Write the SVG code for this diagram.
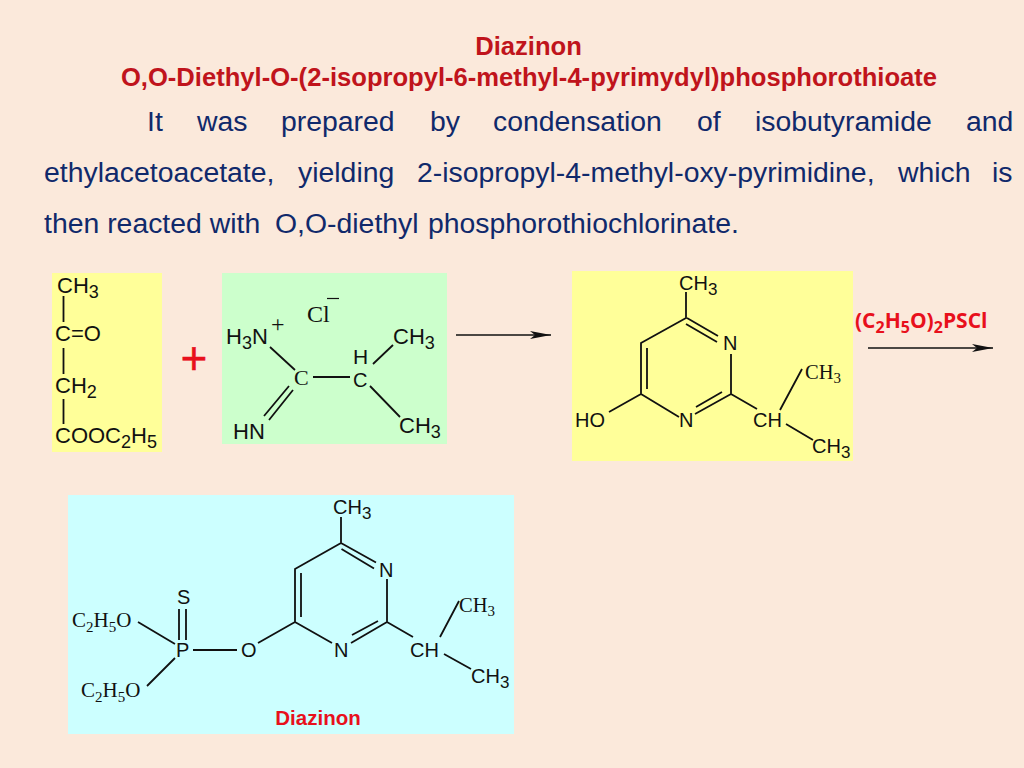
<svg xmlns="http://www.w3.org/2000/svg" width="1024" height="768" viewBox="0 0 1024 768">
<defs>
<marker id="ah" markerUnits="userSpaceOnUse" markerWidth="22" markerHeight="10" refX="21" refY="5" orient="auto"><path d="M0 1L21 5L0 9L5 5Z" fill="#111"/></marker>
</defs>
<style>
text{font-family:"Liberation Sans",Arial,sans-serif;fill:#111}
.t{font-weight:bold;font-size:25.6px;fill:#c0141c;text-anchor:middle}
.b{font-size:28.4px;fill:#10296b}
.a{font-size:22px}
.u{font-size:18px}
.m{font-size:20px}
.n{font-size:17px}
.s{font-family:"Liberation Serif","Times New Roman",serif;font-size:20.500px}
.v{font-size:15px}
.c{font-family:"Open Sans",sans-serif;font-weight:bold;font-size:21px;fill:#e8101c}
.l{stroke:#111;stroke-width:1.800;fill:none}
.ar{stroke:#111;stroke-width:1.500;fill:none;marker-end:url(#ah)}
</style>
<rect width="1024" height="768" fill="#fbe9db"/>
<g id="heading">
<text class="t" x="528.500" y="55">Diazinon</text>
<text class="t" x="529" y="86">O,O-Diethyl-O-(2-isopropyl-6-methyl-4-pyrimydyl)phosphorothioate</text>
</g>
<g id="body">
<text class="b" x="147" y="131">It</text>
<text class="b" x="197" y="131">was</text>
<text class="b" x="281" y="131">prepared</text>
<text class="b" x="430" y="131">by</text>
<text class="b" x="493" y="131">condensation</text>
<text class="b" x="697" y="131">of</text>
<text class="b" x="755" y="131">isobutyramide</text>
<text class="b" x="966" y="131">and</text>
<text class="b" x="44" y="182">ethylacetoacetate,</text>
<text class="b" x="298" y="182">yielding</text>
<text class="b" x="417" y="182">2-isopropyl-4-methyl-oxy-pyrimidine,</text>
<text class="b" x="898" y="182">which</text>
<text class="b" x="992" y="182">is</text>
<text class="b" x="44" y="233">then reacted with</text>
<text class="b" x="275" y="233">O,O-diethyl</text>
<text class="b" x="428" y="233">phosphorothiochlorinate.</text>
</g>
<g id="ethylacetoacetate">
<rect x="52" y="273" width="110" height="179" fill="#ffff99"/>
<text class="a" x="57" y="293">CH<tspan class="u" dy="5">3</tspan></text>
<text class="a" x="55" y="341">C=O</text>
<text class="a" x="55" y="393">CH<tspan class="u" dy="5">2</tspan></text>
<text class="a" x="55" y="443">COOC<tspan class="u" dy="5">2</tspan><tspan dy="-5">H</tspan><tspan class="u" dy="5">5</tspan></text>
<path class="l" d="M63.500 296V322M63.500 348V374M63.500 399V424"/>
</g>
<g id="plus"><text x="194" y="374" font-size="46" stroke="#e8101c" stroke-width="0.400" style="fill:#e8101c" text-anchor="middle">+</text></g>
<g id="isobutyramidine">
<rect x="222" y="273" width="225" height="171" fill="#ccffcc"/>
<text class="s" x="307" y="322" style="font-size:24px">Cl</text>
<path d="M327 298.500H339" stroke="#111" stroke-width="1.200"/>
<text class="s" x="271" y="332" style="font-size:24px">+</text>
<text class="a" x="226" y="344">H<tspan class="u" dy="5">3</tspan><tspan dy="-5">N</tspan></text>
<text class="a" x="393" y="344">CH<tspan class="u" dy="5">3</tspan></text>
<text x="353" y="364" font-size="21">H</text>
<text class="s" x="294" y="385" style="font-size:22px">C</text>
<text x="353" y="387" font-size="20">C</text>
<text class="a" x="233" y="439">HN</text>
<text class="a" x="399" y="433">CH<tspan class="u" dy="5">3</tspan></text>
<path class="l" d="M270 347L295 370M313 377H350M373 364L393 345M370 386L400 417M293 390L269 420M289 386L264 416"/>
</g>
<g id="pyrimidinol">
<rect x="572" y="271" width="281" height="190" fill="#ffff99"/>
<text class="m" x="679" y="290">CH<tspan class="n" dy="5">3</tspan></text>
<text class="m" x="723" y="350">N</text>
<text class="s" x="805" y="379">CH<tspan class="v" dy="4">3</tspan></text>
<text class="m" x="575" y="427">HO</text>
<text class="m" x="679" y="427">N</text>
<text class="m" x="753" y="427">CH</text>
<text class="m" x="812" y="453">CH<tspan class="n" dy="5">3</tspan></text>
<path class="l" d="M686 292V318L641 343V394L679 417M687 318L718 336M686 324L717 342M647 348V389M641 394L609 412M731 354V394L695 414M722 392L696 407M731 394L757 409M780 410L802 369M786 424L813 440"/>
</g>
<g id="diazinon">
<rect x="68" y="495" width="446" height="239" fill="#ccffff"/>
<text class="m" x="333" y="514">CH<tspan class="n" dy="5">3</tspan></text>
<text class="m" x="379" y="577">N</text>
<text class="s" x="459" y="612">CH<tspan class="v" dy="4">3</tspan></text>
<text class="m" x="177" y="604">S</text>
<text class="s" x="72" y="627" style="font-size:21px">C<tspan class="v" dy="5">2</tspan><tspan dy="-5">H</tspan><tspan class="v" dy="5">5</tspan><tspan dy="-5">O</tspan></text>
<text class="m" x="176" y="657">P</text>
<text class="m" x="241" y="657">O</text>
<text class="m" x="334" y="657">N</text>
<text class="m" x="410" y="657">CH</text>
<text class="m" x="471" y="683">CH<tspan class="n" dy="5">3</tspan></text>
<text class="s" x="81" y="697" style="font-size:21px">C<tspan class="v" dy="5">2</tspan><tspan dy="-5">H</tspan><tspan class="v" dy="5">5</tspan><tspan dy="-5">O</tspan></text>
<text x="318" y="725" font-weight="bold" font-size="20.500" text-anchor="middle" style="fill:#e8101c">Diazinon</text>
<path class="l" d="M341 517V543L295 569V622L332 643M341 543L376 562.500M341.500 549L374 568.500M301 573V617M387 579V622L351 643M378 621L352 635M387 622L413 637M295 622L258 643M440 637L459 601M444 654L471 669M138 622L175 644M179 609V640M186 609V640M193 650H237M175 658L147 686"/>
</g>
<g id="connectors">
<path class="ar" d="M456 335H551"/>
<path class="ar" d="M868 348H993"/>
</g>
<g id="reagent"><text class="c" x="855" y="328">(C<tspan font-size="16" dy="5">2</tspan><tspan dy="-5">H</tspan><tspan font-size="16" dy="5">5</tspan><tspan dy="-5">O)</tspan><tspan font-size="16" dy="5">2</tspan><tspan dy="-5">PSCl</tspan></text></g>
</svg>
